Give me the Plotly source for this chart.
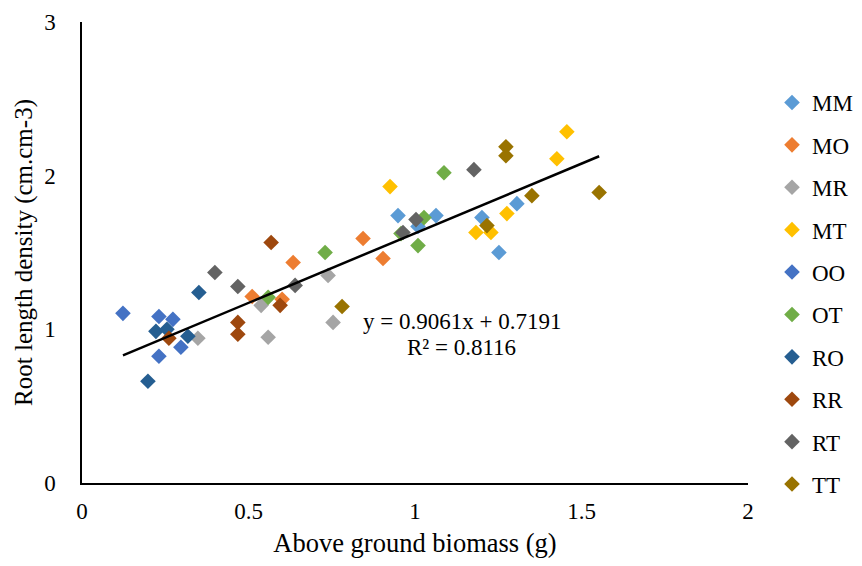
import plotly.graph_objects as go

# ---- data ----
series_names = ["MM", "MO", "MR", "MT", "OO", "OT", "RO", "RR", "RT", "TT"]
colors = ["#5B9BD5", "#ED7D31", "#A5A5A5", "#FFC000", "#4472C4",
          "#70AD47", "#255E91", "#9E480E", "#636363", "#997300"]

mm_x = [0.949, 1.009, 1.063, 1.201, 1.306, 1.252]
mm_y = [1.740, 1.669, 1.740, 1.727, 1.818, 1.500]
mo_x = [0.511, 0.601, 0.634, 0.844, 0.904]
mo_y = [1.214, 1.195, 1.435, 1.591, 1.461]
mr_x = [0.348, 0.538, 0.559, 0.739, 0.754]
mr_y = [0.942, 1.156, 0.948, 1.351, 1.045]
mt_x = [0.925, 1.183, 1.228, 1.276, 1.426, 1.456]
mt_y = [1.929, 1.630, 1.630, 1.753, 2.110, 2.286]
oo_x = [0.123, 0.231, 0.273, 0.297, 0.231]
oo_y = [1.104, 1.084, 1.065, 0.883, 0.825]
ot_x = [0.559, 0.730, 0.958, 1.009, 1.027, 1.087]
ot_y = [1.208, 1.500, 1.623, 1.545, 1.727, 2.019]
ro_x = [0.198, 0.222, 0.255, 0.318, 0.351]
ro_y = [0.662, 0.987, 1.000, 0.955, 1.240]
rr_x = [0.261, 0.468, 0.468, 0.568, 0.595]
rr_y = [0.942, 1.045, 0.968, 1.565, 1.156]
rt_x = [0.399, 0.468, 0.640, 0.964, 1.003, 1.177]
rt_y = [1.370, 1.279, 1.286, 1.630, 1.714, 2.039]
tt_x = [0.781, 1.216, 1.273, 1.273, 1.351, 1.553]
tt_y = [1.149, 1.675, 2.188, 2.130, 1.870, 1.890]

all_x = [mm_x, mo_x, mr_x, mt_x, oo_x, ot_x, ro_x, rr_x, rt_x, tt_x]
all_y = [mm_y, mo_y, mr_y, mt_y, oo_y, ot_y, ro_y, rr_y, rt_y, tt_y]

slope = 0.9061
intercept = 0.7191
eq_text = "y = 0.9061x + 0.7191"
r2_text = "R² = 0.8116"

x_ticks = [0, 0.5, 1, 1.5, 2]
x_labels = ["0", "0.5", "1", "1.5", "2"]
y_ticks = [0, 1, 2, 3]

FONT = "Liberation Serif, Times New Roman, serif"
FS = 23

fig = go.Figure()
for name, c, xs, ys in zip(series_names, colors, all_x, all_y):
    fig.add_trace(go.Scatter(
        x=xs, y=ys, mode="markers", name=name, legendgroup=name,
        marker=dict(symbol="diamond", size=12, color=c, line=dict(width=0)),
    ))

xmin = min(min(v) for v in all_x)
xmax = max(max(v) for v in all_x)
fig.add_trace(go.Scatter(
    x=[xmin, xmax], y=[slope * xmin + intercept, slope * xmax + intercept],
    mode="lines", line=dict(color="black", width=2.5), showlegend=False,
    hoverinfo="skip",
))

fig.add_annotation(x=1.141, y=(484 - 322) / 154, text=eq_text, showarrow=False,
                   xanchor="center", yanchor="middle",
                   font=dict(family=FONT, size=FS, color="black"))
fig.add_annotation(x=1.141, y=(484 - 348) / 154, text=r2_text, showarrow=False,
                   xanchor="center", yanchor="middle",
                   font=dict(family=FONT, size=FS, color="black"))

fig.update_layout(
    width=862, height=566,
    margin=dict(l=82, r=114, t=22, b=83),
    paper_bgcolor="white", plot_bgcolor="white",
    font=dict(family=FONT, size=FS, color="black"),
    showlegend=True,
    legend=dict(xref="container", yref="container",
                x=772 / 862, xanchor="left", y=1 - 81 / 566, yanchor="top",
                maxheight=520,
                tracegroupgap=9.5, font=dict(family=FONT, size=FS, color="black"),
                bgcolor="rgba(0,0,0,0)"),
    xaxis=dict(range=[0, 2], tickvals=x_ticks, ticktext=x_labels,
               showgrid=False, zeroline=False, showline=True,
               linecolor="black", linewidth=1.5,
               ticks="outside", ticklen=7, tickcolor="rgba(0,0,0,0)",
               title=dict(text="Above ground biomass (g)", standoff=10,
                          font=dict(family=FONT, size=26.5)),
               automargin=False),
    yaxis=dict(range=[0, 3], tickvals=y_ticks,
               showgrid=False, zeroline=False, showline=True,
               linecolor="black", linewidth=1.5, ticks="",
               ticklabelstandoff=20,
               title=dict(text="Root length density (cm.cm-3)", standoff=4,
                          font=dict(family=FONT, size=25)),
               automargin=False),
)

fig.write_html("out.html")
